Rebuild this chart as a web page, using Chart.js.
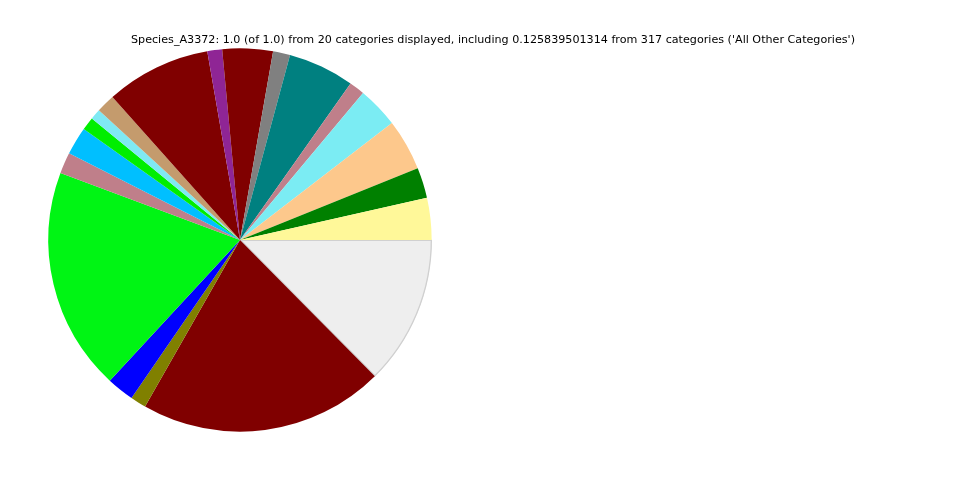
<!DOCTYPE html>
<html>
<head>
<meta charset="utf-8">
<style>
  html, body { margin: 0; padding: 0; background: #ffffff; }
  #wrap { width: 960px; height: 480px; }
</style>
</head>
<body>
<div id="wrap"><canvas id="myChart" width="960" height="480"></canvas></div>

<script src="https://cdn.jsdelivr.net/npm/chart.js"></script>
<script>
  // Titre du graphique
  const titre = "Species_A3372: 1.0 (of 1.0) from 20 categories displayed, including 0.125839501314 from 317 categories ('All Other Categories')";

  // Catégories, dans l'ordre de matplotlib (sens anti-horaire depuis 3h)
  const categories = [
    'Cat 1', 'Cat 2', 'Cat 3', 'Cat 4', 'Cat 5', 'Cat 6', 'Cat 7', 'Cat 8', 'Cat 9', 'Cat 10',
    'Cat 11', 'Cat 12', 'Cat 13', 'Cat 14', 'Cat 15', 'Cat 16', 'Cat 17', 'Cat 18', 'Cat 19',
    'All Other Categories'
  ];

  // Fractions
  const valeurs = [
    0.0353, 0.0258, 0.0433, 0.0347, 0.0131, 0.0558, 0.0144, 0.0425, 0.0125, 0.0886,
    0.0158, 0.0089, 0.0111, 0.0236, 0.0178, 0.1881, 0.0231, 0.0133, 0.2067,
    0.125839501314
  ];

  const couleurs = [
    '#fff899', '#008000', '#fdc88c', '#7becf3', '#bf7f8a', '#008080', '#808080', '#800000', '#8f2595', '#800000',
    '#c49b6d', '#7fe9f3', '#00ee00', '#00bfff', '#bf7f8a', '#00f514', '#0000ff', '#808000', '#800000',
    '#eeeeee'
  ];

  // Chart.js tourne dans le sens horaire : on inverse l'ordre
  const labelsInv = categories.slice().reverse();
  const valeursInv = valeurs.slice().reverse();
  const couleursInv = couleurs.slice().reverse();
  const bordures = valeursInv.map((v, i) => labelsInv[i] === 'All Other Categories' ? 1 : 0);

  // Plugin pour dessiner le titre à la position voulue
  const titrePlugin = {
    id: 'titrePlugin',
    afterDraw(chart) {
      const ctx = chart.ctx;
      ctx.save();
      ctx.font = '11.15px "DejaVu Sans"';
      ctx.fillStyle = '#000000';
      ctx.textAlign = 'center';
      ctx.textBaseline = 'middle';
      ctx.fillText(titre, 493, 40);
      ctx.restore();
    }
  };

  const config = {
    type: 'pie',
    data: {
      labels: labelsInv,
      datasets: [{
        data: valeursInv,
        backgroundColor: couleursInv,
        borderColor: '#d0d0d0',
        borderWidth: bordures,
        borderAlign: 'inner'
      }]
    },
    options: {
      responsive: false,
      animation: false,
      rotation: 90,
      layout: { padding: { left: 48, top: 48, right: 528, bottom: 48 } },
      plugins: {
        legend: { display: false },
        title: { display: false },
        tooltip: { enabled: false }
      }
    },
    plugins: [titrePlugin]
  };

  const myChart = new Chart(document.getElementById('myChart'), config);
</script>
</body>
</html>
